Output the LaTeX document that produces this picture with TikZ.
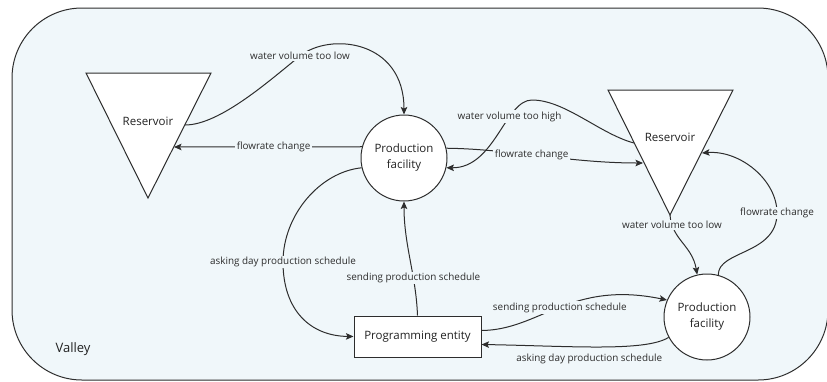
\documentclass[tikz,border=0pt]{standalone}
\usepackage{fontspec}
\setmainfont{Open Sans}
\usetikzlibrary{arrows.meta}
\definecolor{valleybg}{RGB}{240,247,250}
\definecolor{ink}{RGB}{45,45,45}
\definecolor{txt}{RGB}{34,34,34}

\begin{document}
\begin{tikzpicture}[x=1pt,y=-1pt,
  link/.style={draw=ink, line width=1pt, -{Stealth[length=7.5pt,width=6.5pt,inset=1.5pt]}},
  lbl/.style={fill=valleybg, inner sep=1.5pt, font=\fontsize{9.9}{11}\selectfont, text=ink},
  facility/.style={circle, draw=ink, line width=1pt, fill=white, minimum size=86pt,
    inner sep=0pt, align=center, text=txt, font=\fontsize{11.5}{16}\selectfont},
  entity/.style={rectangle, draw=ink, line width=1pt, fill=white, minimum width=127pt,
    minimum height=41pt, text=txt, font=\fontsize{11.5}{14}\selectfont},
  tank/.style={draw=ink, line width=1pt, fill=white, line join=miter},
  tanklabel/.style={text=txt, font=\fontsize{11.5}{14}\selectfont}
]
\useasboundingbox (0,0) rectangle (827,381);

% the valley
\draw[ink, line width=1pt, fill=valleybg, rounded corners=70pt] (12,8) rectangle (828,380);
\node[text=txt, font=\fontsize{13}{15}\selectfont] (valley) at (73,349) {Valley};

% reservoirs
\draw[tank] (86,73) -- (211,73) -- (148,198) -- cycle;
\node[tanklabel] (res1) at (148,121) {Reservoir};
\draw[tank] (608,90) -- (733,90) -- (670,215) -- cycle;
\node[tanklabel] (res2) at (670,137) {Reservoir};

% attachment points on the reservoir borders
\coordinate (res1out) at (185,125);
\coordinate (res1in) at (174,147);
\coordinate (res2out) at (634,143);
\coordinate (res2in) at (643,163);
\coordinate (res2tip) at (670,215);
\coordinate (res2side) at (702,153);

% facilities and the programming entity
\node[facility] (pf1) at (404,158) {Production\\facility};
\node[facility] (pf2) at (707,317) {Production\\facility};
\node[entity] (pe) at (417.5,336.5) {Programming entity};

% left reservoir <-> first facility
\draw[link] (res1out) .. controls (220,125) and (270,80) .. (300,56)
  node[lbl] {water volume too low}
  .. controls (330,32) and (404,40) .. (pf1.north);
\draw[link] (pf1.165) -- (res1in) node[lbl, pos=0.47] {flowrate change};

% right reservoir <-> first facility
\draw[link] (res2out) .. controls (600,134) and (565,100) .. (532,100)
  .. controls (505,100) and (495,168) .. (pf1.-13)
  node[lbl, pos=0.32] {water volume too high};
\draw[link] (pf1.13) .. controls (510,149) and (570,163) .. (res2in)
  node[lbl, pos=0.45] {flowrate change};

% right reservoir <-> second facility
\draw[link] (pf2.75) .. controls (718,250) and (777,255) .. (777,213)
  node[lbl] {flowrate change}
  .. controls (777,180) and (740,150) .. (res2side);
\draw[link] (res2tip) .. controls (672,240) and (692,245) .. (pf2.103)
  node[lbl, pos=0.15] {water volume too low};

% programming entity <-> first facility
\draw[link] (pe.north) .. controls (416,275) and (404,245) .. (pf1.south)
  node[lbl, pos=0.33] {sending production schedule};
\draw[link] (pf1.193) .. controls (320,172) and (283,215) .. (283,262)
  node[lbl] {asking day production schedule}
  .. controls (283,310) and (310,336) .. (pe.west);

% programming entity <-> second facility
\draw[link] ([yshift=6pt]pe.east) .. controls (540,330) and (570,280) .. (pf2.157)
  node[lbl, pos=0.5] {sending production schedule};
\draw[link] (pf2.208) .. controls (645,352) and (570,346) .. ([yshift=-8pt]pe.east)
  node[lbl, pos=0.55, below=5pt] {asking day production schedule};
\end{tikzpicture}
\end{document}
